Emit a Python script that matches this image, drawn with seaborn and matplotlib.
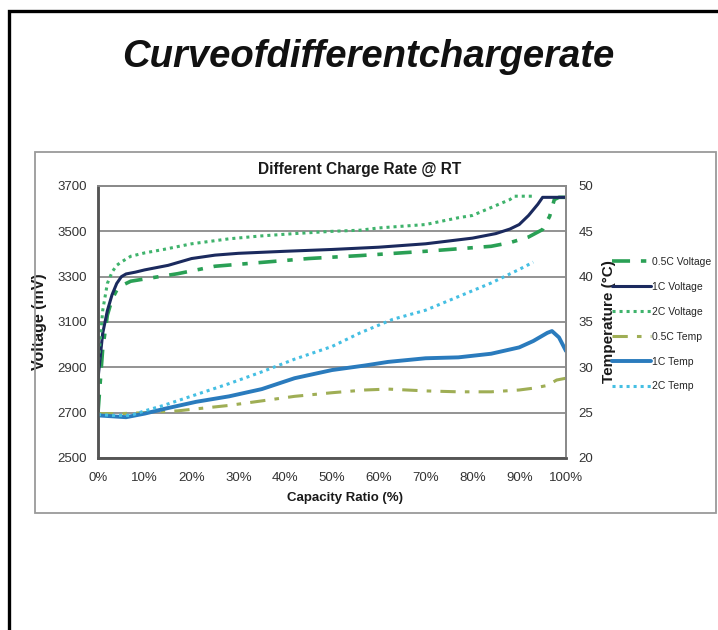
import matplotlib
matplotlib.use("Agg")
import matplotlib.pyplot as plt
import matplotlib.patches as patches
import seaborn as sns

# capacity ratio (%) and voltage (mV)
x_v05 = [0, 1, 2, 3, 4, 5, 7, 10, 17, 25, 35, 45, 56, 70, 84, 88, 92, 95, 96.5, 97.5, 98.5, 100]
v_v05 = [2700, 2980, 3130, 3200, 3240, 3260, 3280, 3290, 3313, 3346, 3363, 3380, 3393, 3412, 3434, 3450,
         3475, 3508, 3566, 3640, 3650, 3650]

x_v1 = [0, 1, 2, 3, 4, 5, 6, 8, 10, 15, 20, 25, 30, 40, 50, 60, 70, 80, 85, 88, 90, 92, 94, 95, 100]
v_v1 = [2850, 3050, 3150, 3220, 3270, 3300, 3312, 3320, 3330, 3350, 3380, 3395, 3403, 3412, 3420, 3430,
        3445, 3470, 3490, 3510, 3530, 3570, 3620, 3650, 3650]

x_v2 = [0, 1, 2, 3, 4, 5, 7, 10, 14, 20, 28, 35, 42, 50, 56, 60, 70, 77, 80, 84, 88, 89, 93]
v_v2 = [2900, 3150, 3270, 3320, 3350, 3365, 3390, 3405, 3420, 3445, 3467, 3480, 3490, 3500, 3505, 3515,
        3530, 3560, 3570, 3605, 3640, 3655, 3655]

# temperatures (°C)
x_t05 = [0, 5, 10, 17, 28, 35, 42, 50, 57, 62, 70, 77, 84, 90, 93, 96, 98, 100]
t_t05 = [24.9, 24.9, 25.0, 25.2, 25.8, 26.3, 26.8, 27.2, 27.5, 27.6, 27.4, 27.3, 27.3, 27.5, 27.7, 28.0,
         28.6, 28.8]

x_t1 = [0, 3, 6, 10, 14, 21, 28, 35, 42, 50, 57, 62, 70, 77, 84, 90, 93, 96, 97, 98.5, 100]
t_t1 = [24.7, 24.6, 24.5, 24.9, 25.4, 26.2, 26.8, 27.6, 28.8, 29.7, 30.2, 30.6, 31.0, 31.1, 31.5, 32.2,
        32.9, 33.8, 34.0, 33.3, 31.8]

x_t2 = [0, 3, 7, 10, 14, 21, 28, 35, 42, 50, 56, 63, 70, 77, 84, 90, 93]
t_t2 = [24.8, 24.7, 24.7, 25.2, 25.8, 27.0, 28.2, 29.5, 30.9, 32.3, 33.8, 35.3, 36.3, 37.8, 39.3, 40.8, 41.6]

x_ticks = [0, 10, 20, 30, 40, 50, 60, 70, 80, 90, 100]
x_ticklabels = ["0%", "10%", "20%", "30%", "40%", "50%", "60%", "70%", "80%", "90%", "100%"]
v_ticks = [2500, 2700, 2900, 3100, 3300, 3500, 3700]
t_ticks = [20, 25, 30, 35, 40, 45, 50]

sns.set_style("white")
plt.rcParams["font.family"] = ["Liberation Sans", "DejaVu Sans"]

fig = plt.figure(figsize=(7.18, 6.30), dpi=100)

# slide frame
fig.add_artist(patches.Rectangle((8.5 / 718, -0.05), 1.2, 1 - 10.5 / 630 + 0.05, transform=fig.transFigure,
                                 fill=False, edgecolor="black", lw=2.4, clip_on=False))
fig.text(0.513, 1 - 67 / 630, "Curveofdifferentchargerate", ha="center", va="baseline",
         fontsize=27.5, fontweight="bold", fontstyle="italic", color="#111111")

# chart box
fig.add_artist(patches.Rectangle((35 / 718, 1 - 513 / 630), (716 - 35) / 718, (513 - 152) / 630,
                                 transform=fig.transFigure, fill=False, edgecolor="#9a9a9a", lw=1.3))
fig.text(360 / 718, 1 - 170 / 630, "Different Charge Rate @ RT", ha="center", va="center",
         fontsize=11.2, fontweight="bold", color="#1a1a1a")

ax = fig.add_axes([98 / 718, 1 - 458 / 630, 468 / 718, 272 / 630])
ax2 = ax.twinx()

sns.lineplot(x=x_v05, y=v_v05, ax=ax, color="#2aa055", lw=2.6, linestyle=(0, (5, 3, 1.5, 3)),
             label="0.5C Voltage", legend=False)
sns.lineplot(x=x_v1, y=v_v1, ax=ax, color="#1b2a5e", lw=2.2, label="1C Voltage", legend=False)
sns.lineplot(x=x_v2, y=v_v2, ax=ax, color="#3fb36c", lw=2.2, linestyle=(0, (1, 1.3)),
             label="2C Voltage", legend=False)
sns.lineplot(x=x_t05, y=t_t05, ax=ax2, color="#9fae55", lw=2.2, linestyle=(0, (5, 3, 1.5, 3)),
             label="0.5C Temp", legend=False)
sns.lineplot(x=x_t1, y=t_t1, ax=ax2, color="#2a7bbd", lw=2.8, label="1C Temp", legend=False)
sns.lineplot(x=x_t2, y=t_t2, ax=ax2, color="#45bfe3", lw=2.2, linestyle=(0, (1, 1.3)),
             label="2C Temp", legend=False)

ax.set_xlim(0, 100)
ax.set_ylim(2500, 3700)
ax2.set_ylim(20, 50)
ax.set_xticks(x_ticks)
ax.set_xticklabels(x_ticklabels)
ax.set_yticks(v_ticks)
ax2.set_yticks(t_ticks)
ax.yaxis.grid(True, color="#8a8a8a", lw=1.3)
ax.set_axisbelow(True)

ax.tick_params(axis="x", direction="in", length=4, color="#777777", labelsize=9.5, pad=10, labelcolor="#333333")
ax.tick_params(axis="y", length=0, labelsize=9.5, pad=8, labelcolor="#333333")
ax2.tick_params(axis="y", length=0, labelsize=9.5, pad=9, labelcolor="#333333")

for a in (ax, ax2):
    for s in a.spines.values():
        s.set_color("#8a8a8a")
        s.set_linewidth(1.3)
    a.spines["left"].set_color("#555555")
    a.spines["bottom"].set_color("#555555")
    a.spines["left"].set_linewidth(1.8)
    a.spines["bottom"].set_linewidth(1.8)

ax.set_xlabel("Capacity Ratio (%)", fontsize=9.5, fontweight="bold", color="#1a1a1a")
ax.xaxis.set_label_coords(0.528, -0.125)
ax.set_ylabel("Voltage (mV)", fontsize=11.5, fontweight="bold", color="#1a1a1a")
ax.yaxis.set_label_coords(-0.109, 0.5)
ax2.set_ylabel("Temperature (°C)", fontsize=11, fontweight="bold", color="#1a1a1a")
ax2.yaxis.set_label_coords(1.076, 0.5)

handles = ax.get_lines()[:3] + ax2.get_lines()[:3]
labels = [h.get_label() for h in handles]
fig.legend(handles, labels, loc="upper left", bbox_to_anchor=(612 / 718, 1 - 257 / 630),
           frameon=False, fontsize=7.5, handlelength=3.7, handletextpad=0.15, labelspacing=1.43,
           borderpad=0, borderaxespad=0)

fig.savefig("out.png", dpi=100)
